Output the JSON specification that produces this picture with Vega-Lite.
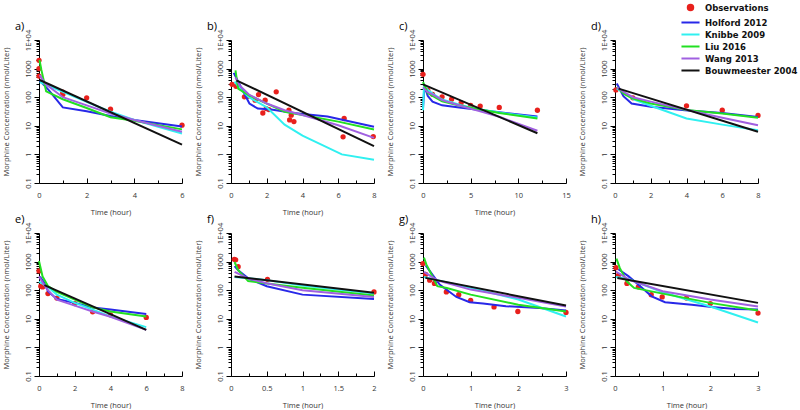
{
"$schema":"https://vega.github.io/schema/vega-lite/v6.json",
"padding":{"left":1,"top":1,"right":0,"bottom":0},
"columns":4,
"spacing":{"row":50,"column":49},
"bounds":"flush",
"datasets":{"d":[
{"p":"a","s":"O","t":0,"c":1950},{"p":"a","s":"O","t":0,"c":1000},{"p":"a","s":"O","t":0,"c":550},{"p":"a","s":"O","t":1,"c":150},{"p":"a","s":"O","t":1,"c":125},{"p":"a","s":"O","t":2,"c":95},{"p":"a","s":"O","t":3,"c":38},{"p":"a","s":"O","t":6,"c":10.5},
{"p":"a","s":"H","t":0.03,"c":380},{"p":"a","s":"H","t":0.4,"c":180},{"p":"a","s":"H","t":1,"c":44},{"p":"a","s":"H","t":2,"c":32},{"p":"a","s":"H","t":3,"c":22},{"p":"a","s":"H","t":4,"c":16},{"p":"a","s":"H","t":6,"c":9.5},
{"p":"a","s":"K","t":0.03,"c":340},{"p":"a","s":"K","t":1,"c":155},{"p":"a","s":"K","t":2,"c":69},{"p":"a","s":"K","t":3,"c":31},{"p":"a","s":"K","t":4,"c":16},{"p":"a","s":"K","t":6,"c":5.4},
{"p":"a","s":"L","t":0.02,"c":2000},{"p":"a","s":"L","t":0.1,"c":900},{"p":"a","s":"L","t":0.3,"c":160},{"p":"a","s":"L","t":1,"c":85},{"p":"a","s":"L","t":2,"c":42},{"p":"a","s":"L","t":3,"c":20},{"p":"a","s":"L","t":4,"c":15},{"p":"a","s":"L","t":6,"c":7.5},
{"p":"a","s":"W","t":0.03,"c":600},{"p":"a","s":"W","t":0.25,"c":300},{"p":"a","s":"W","t":1,"c":100},{"p":"a","s":"W","t":2,"c":52},{"p":"a","s":"W","t":3,"c":27},{"p":"a","s":"W","t":4,"c":16},{"p":"a","s":"W","t":6,"c":6.2},
{"p":"a","s":"B","t":0.03,"c":400},{"p":"a","s":"B","t":6,"c":2.2},
{"p":"b","s":"O","t":0.06,"c":283},{"p":"b","s":"O","t":0.28,"c":241},{"p":"b","s":"O","t":0.75,"c":103},{"p":"b","s":"O","t":0.94,"c":108},{"p":"b","s":"O","t":1.35,"c":79},{"p":"b","s":"O","t":1.54,"c":124},{"p":"b","s":"O","t":1.78,"c":28},{"p":"b","s":"O","t":1.91,"c":79},{"p":"b","s":"O","t":1.97,"c":40},{"p":"b","s":"O","t":2.12,"c":37},{"p":"b","s":"O","t":2.53,"c":154},{"p":"b","s":"O","t":3.24,"c":35},{"p":"b","s":"O","t":3.28,"c":16},{"p":"b","s":"O","t":3.37,"c":23.6},{"p":"b","s":"O","t":3.52,"c":14},{"p":"b","s":"O","t":6.27,"c":4.1},{"p":"b","s":"O","t":6.33,"c":18},{"p":"b","s":"O","t":7.96,"c":4.2},
{"p":"b","s":"H","t":0.15,"c":710},{"p":"b","s":"H","t":0.65,"c":175},{"p":"b","s":"H","t":1.03,"c":60},{"p":"b","s":"H","t":1.5,"c":40},{"p":"b","s":"H","t":2.25,"c":37},{"p":"b","s":"H","t":3.5,"c":28},{"p":"b","s":"H","t":5.4,"c":21},{"p":"b","s":"H","t":8,"c":9.3},
{"p":"b","s":"K","t":0.2,"c":350},{"p":"b","s":"K","t":0.5,"c":200},{"p":"b","s":"K","t":1,"c":100},{"p":"b","s":"K","t":2,"c":44},{"p":"b","s":"K","t":3,"c":11},{"p":"b","s":"K","t":4,"c":4.5},{"p":"b","s":"K","t":6.2,"c":1},{"p":"b","s":"K","t":8,"c":0.65},
{"p":"b","s":"L","t":0.25,"c":870},{"p":"b","s":"L","t":0.4,"c":200},{"p":"b","s":"L","t":1,"c":117},{"p":"b","s":"L","t":2,"c":60},{"p":"b","s":"L","t":3,"c":31},{"p":"b","s":"L","t":4,"c":24},{"p":"b","s":"L","t":6,"c":14},{"p":"b","s":"L","t":8,"c":7.4},
{"p":"b","s":"W","t":0.25,"c":490},{"p":"b","s":"W","t":0.5,"c":250},{"p":"b","s":"W","t":1,"c":124},{"p":"b","s":"W","t":2,"c":60},{"p":"b","s":"W","t":3,"c":35},{"p":"b","s":"W","t":4,"c":24},{"p":"b","s":"W","t":6,"c":10.5},{"p":"b","s":"W","t":8,"c":3.8},
{"p":"b","s":"B","t":0.3,"c":390},{"p":"b","s":"B","t":8,"c":1.95},
{"p":"c","s":"O","t":0,"c":630},{"p":"c","s":"O","t":0.5,"c":175},{"p":"c","s":"O","t":1,"c":126},{"p":"c","s":"O","t":2,"c":103},{"p":"c","s":"O","t":3,"c":85},{"p":"c","s":"O","t":4,"c":63},{"p":"c","s":"O","t":5,"c":52},{"p":"c","s":"O","t":6,"c":49},{"p":"c","s":"O","t":8,"c":44},{"p":"c","s":"O","t":12,"c":35},
{"p":"c","s":"H","t":0,"c":40},{"p":"c","s":"H","t":0.15,"c":250},{"p":"c","s":"H","t":0.5,"c":110},{"p":"c","s":"H","t":1,"c":70},{"p":"c","s":"H","t":2,"c":52},{"p":"c","s":"H","t":4,"c":43},{"p":"c","s":"H","t":6,"c":36},{"p":"c","s":"H","t":8,"c":30},{"p":"c","s":"H","t":12,"c":21},
{"p":"c","s":"K","t":0,"c":35},{"p":"c","s":"K","t":0.1,"c":230},{"p":"c","s":"K","t":1,"c":134},{"p":"c","s":"K","t":2,"c":83},{"p":"c","s":"K","t":4,"c":52},{"p":"c","s":"K","t":6,"c":37},{"p":"c","s":"K","t":8,"c":29},{"p":"c","s":"K","t":12,"c":19.5},
{"p":"c","s":"L","t":0,"c":340},{"p":"c","s":"L","t":0.5,"c":140},{"p":"c","s":"L","t":1,"c":111},{"p":"c","s":"L","t":2,"c":72},{"p":"c","s":"L","t":4,"c":49},{"p":"c","s":"L","t":6,"c":37},{"p":"c","s":"L","t":8,"c":28},{"p":"c","s":"L","t":12,"c":18},
{"p":"c","s":"W","t":0,"c":220},{"p":"c","s":"W","t":0.5,"c":150},{"p":"c","s":"W","t":1,"c":125},{"p":"c","s":"W","t":2,"c":79},{"p":"c","s":"W","t":4,"c":49},{"p":"c","s":"W","t":6,"c":32},{"p":"c","s":"W","t":8,"c":20.6},{"p":"c","s":"W","t":12,"c":6.7},
{"p":"c","s":"B","t":0,"c":280},{"p":"c","s":"B","t":12,"c":5.5},
{"p":"d","s":"O","t":0.05,"c":180},{"p":"d","s":"O","t":1,"c":95},{"p":"d","s":"O","t":4,"c":50},{"p":"d","s":"O","t":6,"c":35},{"p":"d","s":"O","t":8,"c":23},
{"p":"d","s":"H","t":0.1,"c":300},{"p":"d","s":"H","t":0.47,"c":108},{"p":"d","s":"H","t":0.93,"c":60},{"p":"d","s":"H","t":2,"c":46},{"p":"d","s":"H","t":3.9,"c":35},{"p":"d","s":"H","t":6,"c":28},{"p":"d","s":"H","t":8,"c":20.5},
{"p":"d","s":"K","t":0.1,"c":200},{"p":"d","s":"K","t":0.5,"c":140},{"p":"d","s":"K","t":1,"c":85},{"p":"d","s":"K","t":2,"c":50},{"p":"d","s":"K","t":4,"c":18},{"p":"d","s":"K","t":6,"c":11},{"p":"d","s":"K","t":8,"c":7},
{"p":"d","s":"L","t":0.1,"c":230},{"p":"d","s":"L","t":0.5,"c":130},{"p":"d","s":"L","t":1,"c":90},{"p":"d","s":"L","t":2,"c":60},{"p":"d","s":"L","t":4,"c":36},{"p":"d","s":"L","t":6,"c":27},{"p":"d","s":"L","t":8,"c":19},
{"p":"d","s":"W","t":0.1,"c":220},{"p":"d","s":"W","t":0.5,"c":150},{"p":"d","s":"W","t":1,"c":100},{"p":"d","s":"W","t":2,"c":70},{"p":"d","s":"W","t":4,"c":36},{"p":"d","s":"W","t":6,"c":19},{"p":"d","s":"W","t":8,"c":10.5},
{"p":"d","s":"B","t":0.2,"c":200},{"p":"d","s":"B","t":8,"c":6.2},
{"p":"e","s":"O","t":0,"c":470},{"p":"e","s":"O","t":0.1,"c":138},{"p":"e","s":"O","t":0.2,"c":130},{"p":"e","s":"O","t":0.5,"c":76},{"p":"e","s":"O","t":1,"c":53},{"p":"e","s":"O","t":2,"c":34},{"p":"e","s":"O","t":3,"c":17.6},{"p":"e","s":"O","t":4,"c":13.8},{"p":"e","s":"O","t":6,"c":11.2},
{"p":"e","s":"H","t":0.05,"c":300},{"p":"e","s":"H","t":0.3,"c":180},{"p":"e","s":"H","t":0.5,"c":92},{"p":"e","s":"H","t":1,"c":49},{"p":"e","s":"H","t":2,"c":36},{"p":"e","s":"H","t":3,"c":25},{"p":"e","s":"H","t":4,"c":21},{"p":"e","s":"H","t":6,"c":14.6},
{"p":"e","s":"K","t":0,"c":200},{"p":"e","s":"K","t":0.5,"c":130},{"p":"e","s":"K","t":1,"c":70},{"p":"e","s":"K","t":2,"c":36},{"p":"e","s":"K","t":3,"c":21},{"p":"e","s":"K","t":4,"c":12},{"p":"e","s":"K","t":6,"c":5.1},
{"p":"e","s":"L","t":0,"c":1050},{"p":"e","s":"L","t":0.2,"c":300},{"p":"e","s":"L","t":0.5,"c":140},{"p":"e","s":"L","t":1,"c":87},{"p":"e","s":"L","t":2,"c":47},{"p":"e","s":"L","t":3,"c":25},{"p":"e","s":"L","t":4,"c":18},{"p":"e","s":"L","t":6,"c":12},
{"p":"e","s":"W","t":0,"c":300},{"p":"e","s":"W","t":0.3,"c":150},{"p":"e","s":"W","t":0.5,"c":100},{"p":"e","s":"W","t":1,"c":47},{"p":"e","s":"W","t":2,"c":29},{"p":"e","s":"W","t":3,"c":18},{"p":"e","s":"W","t":4,"c":11.8},{"p":"e","s":"W","t":6,"c":4.1},
{"p":"e","s":"B","t":0.3,"c":150},{"p":"e","s":"B","t":6,"c":4.1},
{"p":"f","s":"O","t":0.046,"c":1200},{"p":"f","s":"O","t":0.065,"c":1150},{"p":"f","s":"O","t":0.1,"c":660},{"p":"f","s":"O","t":0.51,"c":240},{"p":"f","s":"O","t":2,"c":87},
{"p":"f","s":"H","t":0.05,"c":700},{"p":"f","s":"H","t":0.1,"c":500},{"p":"f","s":"H","t":0.25,"c":250},{"p":"f","s":"H","t":0.5,"c":138},{"p":"f","s":"H","t":1,"c":70},{"p":"f","s":"H","t":2,"c":49},
{"p":"f","s":"K","t":0.05,"c":290},{"p":"f","s":"K","t":0.5,"c":225},{"p":"f","s":"K","t":1,"c":146},{"p":"f","s":"K","t":2,"c":76},
{"p":"f","s":"L","t":0.05,"c":970},{"p":"f","s":"L","t":0.1,"c":500},{"p":"f","s":"L","t":0.24,"c":208},{"p":"f","s":"L","t":0.5,"c":173},{"p":"f","s":"L","t":1,"c":121},{"p":"f","s":"L","t":2,"c":65},
{"p":"f","s":"W","t":0.05,"c":440},{"p":"f","s":"W","t":0.25,"c":250},{"p":"f","s":"W","t":0.5,"c":175},{"p":"f","s":"W","t":1,"c":100},{"p":"f","s":"W","t":2,"c":58},
{"p":"f","s":"B","t":0.05,"c":300},{"p":"f","s":"B","t":2,"c":81},
{"p":"g","s":"O","t":0,"c":850},{"p":"g","s":"O","t":0.056,"c":355},{"p":"g","s":"O","t":0.14,"c":225},{"p":"g","s":"O","t":0.24,"c":173},{"p":"g","s":"O","t":0.49,"c":87},{"p":"g","s":"O","t":0.75,"c":70},{"p":"g","s":"O","t":1,"c":44},{"p":"g","s":"O","t":1.49,"c":26},{"p":"g","s":"O","t":1.99,"c":18},{"p":"g","s":"O","t":3,"c":16.7},
{"p":"g","s":"H","t":0.056,"c":740},{"p":"g","s":"H","t":0.35,"c":158},{"p":"g","s":"H","t":0.7,"c":58},{"p":"g","s":"H","t":0.98,"c":38},{"p":"g","s":"H","t":1.26,"c":34},{"p":"g","s":"H","t":1.74,"c":27.5},{"p":"g","s":"H","t":2.44,"c":24},{"p":"g","s":"H","t":3,"c":19.6},
{"p":"g","s":"K","t":0.02,"c":290},{"p":"g","s":"K","t":0.3,"c":225},{"p":"g","s":"K","t":1,"c":121},{"p":"g","s":"K","t":2,"c":47},{"p":"g","s":"K","t":3,"c":12},
{"p":"g","s":"L","t":0.02,"c":1380},{"p":"g","s":"L","t":0.07,"c":800},{"p":"g","s":"L","t":0.2,"c":300},{"p":"g","s":"L","t":0.3,"c":138},{"p":"g","s":"L","t":0.5,"c":120},{"p":"g","s":"L","t":1,"c":70},{"p":"g","s":"L","t":2,"c":31},{"p":"g","s":"L","t":3,"c":18},
{"p":"g","s":"W","t":0.02,"c":440},{"p":"g","s":"W","t":0.3,"c":220},{"p":"g","s":"W","t":1,"c":105},{"p":"g","s":"W","t":2,"c":54},{"p":"g","s":"W","t":3,"c":27},
{"p":"g","s":"B","t":0.05,"c":270},{"p":"g","s":"B","t":3,"c":29},
{"p":"h","s":"O","t":0.02,"c":615},{"p":"h","s":"O","t":0.07,"c":330},{"p":"h","s":"O","t":0.25,"c":173},{"p":"h","s":"O","t":0.49,"c":131},{"p":"h","s":"O","t":0.76,"c":70},{"p":"h","s":"O","t":0.99,"c":58},{"p":"h","s":"O","t":1.5,"c":53},{"p":"h","s":"O","t":2,"c":34},{"p":"h","s":"O","t":3,"c":15.8},
{"p":"h","s":"H","t":0.07,"c":540},{"p":"h","s":"H","t":0.28,"c":310},{"p":"h","s":"H","t":0.53,"c":138},{"p":"h","s":"H","t":0.77,"c":61},{"p":"h","s":"H","t":1.05,"c":38},{"p":"h","s":"H","t":1.61,"c":31},{"p":"h","s":"H","t":2.03,"c":26},{"p":"h","s":"H","t":2.52,"c":22},{"p":"h","s":"H","t":3,"c":21},
{"p":"h","s":"K","t":0.02,"c":290},{"p":"h","s":"K","t":0.3,"c":240},{"p":"h","s":"K","t":1,"c":85},{"p":"h","s":"K","t":2,"c":27},{"p":"h","s":"K","t":3,"c":7.4},
{"p":"h","s":"L","t":0.03,"c":1270},{"p":"h","s":"L","t":0.1,"c":600},{"p":"h","s":"L","t":0.25,"c":200},{"p":"h","s":"L","t":0.4,"c":120},{"p":"h","s":"L","t":1,"c":76},{"p":"h","s":"L","t":2,"c":36},{"p":"h","s":"L","t":3,"c":19.6},
{"p":"h","s":"W","t":0.02,"c":450},{"p":"h","s":"W","t":0.3,"c":230},{"p":"h","s":"W","t":1,"c":92},{"p":"h","s":"W","t":2,"c":47},{"p":"h","s":"W","t":3,"c":27},
{"p":"h","s":"B","t":0.05,"c":265},{"p":"h","s":"B","t":3,"c":36}
]},
"concat":[
{"width":143,"height":143,"title":"a)","data":{"name":"d"},"transform":[{"filter":"datum.p=='a'"}],
 "encoding":{
  "x":{"field":"t","type":"quantitative","scale":{"domain":[0,6],"nice":false,"zero":false},"axis":{"title":"Time (hour)","values":[0,1,2,3,4,5,6],"labelExpr":"datum.value%2==0?format(datum.value,'~g'):''","tickSize":{"condition":{"test":"datum.value%2==0","value":-5},"value":-3}}},
  "y":{"field":"c","type":"quantitative","scale":{"type":"log","domain":[0.1,10000],"nice":false},"axis":{"title":"Morphine Concentration (nmol/Liter)","values":[0.1,0.2,0.3,0.4,0.5,0.6,0.7,0.8,0.9,1,2,3,4,5,6,7,8,9,10,20,30,40,50,60,70,80,90,100,200,300,400,500,600,700,800,900,1000,2000,3000,4000,5000,6000,7000,8000,9000,10000],"labelExpr":"datum.value==10000?'1E+04':datum.value==1000?'1000':datum.value==100?'100':datum.value==10?'10':datum.value==1?'1':datum.value==0.1?'0.1':''","tickSize":{"condition":{"test":"indexof([0.1,1,10,100,1000,10000],datum.value)>=0","value":5},"value":3}}},
  "color":{"field":"s","type":"nominal","scale":{"domain":["O","H","K","L","W","B"],"range":["#e8201c","#2828e8","#30f0f0","#22e022","#a060e0","#111111"]},
   "legend":{"title":null,"orient":"none","legendX":645,"legendY":-39,"labelFont":"DejaVu Sans","labelFontWeight":"bold","labelFontSize":8.5,"labelColor":"#111","symbolSize":64,"rowPadding":1,"labelOffset":8,
    "labelExpr":"datum.value=='O'?'Observations':datum.value=='H'?'Holford 2012':datum.value=='K'?'Knibbe 2009':datum.value=='L'?'Liu 2016':datum.value=='W'?'Wang 2013':'Bouwmeester 2004'",
    "encode":{"symbols":{"update":{
      "shape":{"signal":"datum.value=='O'?'circle':'M-1.65,0H1.65'"},
      "size":{"signal":"datum.value=='O'?30:120"},
      "fill":{"signal":"datum.value=='O'?'#e8201c':'transparent'"},
      "stroke":{"signal":"datum.value=='O'?'transparent':scale('color',datum.value)"},
      "strokeWidth":{"value":2},
      "opacity":{"value":1}}}}}}
 },
 "layer":[
  {"transform":[{"filter":"datum.s=='O'"}],"mark":{"type":"circle","size":28,"opacity":1}},
  {"transform":[{"filter":"datum.s!='O'"}],"mark":{"type":"line","strokeWidth":2}}
 ]},
{"width":143,"height":143,"title":"b)","data":{"name":"d"},"transform":[{"filter":"datum.p=='b'"}],
 "encoding":{
  "x":{"field":"t","type":"quantitative","scale":{"domain":[0,8],"nice":false,"zero":false},"axis":{"title":"Time (hour)","values":[0,1,2,3,4,5,6,7,8],"labelExpr":"datum.value%2==0?format(datum.value,'~g'):''","tickSize":{"condition":{"test":"datum.value%2==0","value":-5},"value":-3}}},
  "y":{"field":"c","type":"quantitative","scale":{"type":"log","domain":[0.1,10000],"nice":false},"axis":{"title":"Morphine Concentration (nmol/Liter)","values":[0.1,0.2,0.3,0.4,0.5,0.6,0.7,0.8,0.9,1,2,3,4,5,6,7,8,9,10,20,30,40,50,60,70,80,90,100,200,300,400,500,600,700,800,900,1000,2000,3000,4000,5000,6000,7000,8000,9000,10000],"labelExpr":"datum.value==10000?'1E+04':datum.value==1000?'1000':datum.value==100?'100':datum.value==10?'10':datum.value==1?'1':datum.value==0.1?'0.1':''","tickSize":{"condition":{"test":"indexof([0.1,1,10,100,1000,10000],datum.value)>=0","value":5},"value":3}}},
  "color":{"field":"s","type":"nominal","scale":{"domain":["O","H","K","L","W","B"],"range":["#e8201c","#2828e8","#30f0f0","#22e022","#a060e0","#111111"]}}
 },
 "layer":[
  {"transform":[{"filter":"datum.s=='O'"}],"mark":{"type":"circle","size":28,"opacity":1}},
  {"transform":[{"filter":"datum.s!='O'"}],"mark":{"type":"line","strokeWidth":2}}
 ]},
{"width":143,"height":143,"title":"c)","data":{"name":"d"},"transform":[{"filter":"datum.p=='c'"}],
 "encoding":{
  "x":{"field":"t","type":"quantitative","scale":{"domain":[0,15],"nice":false,"zero":false},"axis":{"title":"Time (hour)","values":[0,2.5,5,7.5,10,12.5,15],"labelExpr":"datum.value%5==0?format(datum.value,'~g'):''","tickSize":{"condition":{"test":"datum.value%5==0","value":-5},"value":-3}}},
  "y":{"field":"c","type":"quantitative","scale":{"type":"log","domain":[0.1,10000],"nice":false},"axis":{"title":"Morphine Concentration (nmol/Liter)","values":[0.1,0.2,0.3,0.4,0.5,0.6,0.7,0.8,0.9,1,2,3,4,5,6,7,8,9,10,20,30,40,50,60,70,80,90,100,200,300,400,500,600,700,800,900,1000,2000,3000,4000,5000,6000,7000,8000,9000,10000],"labelExpr":"datum.value==10000?'1E+04':datum.value==1000?'1000':datum.value==100?'100':datum.value==10?'10':datum.value==1?'1':datum.value==0.1?'0.1':''","tickSize":{"condition":{"test":"indexof([0.1,1,10,100,1000,10000],datum.value)>=0","value":5},"value":3}}},
  "color":{"field":"s","type":"nominal","scale":{"domain":["O","H","K","L","W","B"],"range":["#e8201c","#2828e8","#30f0f0","#22e022","#a060e0","#111111"]}}
 },
 "layer":[
  {"transform":[{"filter":"datum.s=='O'"}],"mark":{"type":"circle","size":28,"opacity":1}},
  {"transform":[{"filter":"datum.s!='O'"}],"mark":{"type":"line","strokeWidth":2}}
 ]},
{"width":143,"height":143,"title":"d)","data":{"name":"d"},"transform":[{"filter":"datum.p=='d'"}],
 "encoding":{
  "x":{"field":"t","type":"quantitative","scale":{"domain":[0,8],"nice":false,"zero":false},"axis":{"title":null,"values":[0,1,2,3,4,5,6,7,8],"labelExpr":"datum.value%2==0?format(datum.value,'~g'):''","tickSize":{"condition":{"test":"datum.value%2==0","value":-5},"value":-3}}},
  "y":{"field":"c","type":"quantitative","scale":{"type":"log","domain":[0.1,10000],"nice":false},"axis":{"title":"Morphine Concentration (nmol/Liter)","values":[0.1,0.2,0.3,0.4,0.5,0.6,0.7,0.8,0.9,1,2,3,4,5,6,7,8,9,10,20,30,40,50,60,70,80,90,100,200,300,400,500,600,700,800,900,1000,2000,3000,4000,5000,6000,7000,8000,9000,10000],"labelExpr":"datum.value==10000?'1E+04':datum.value==1000?'1000':datum.value==100?'100':datum.value==10?'10':datum.value==1?'1':datum.value==0.1?'0.1':''","tickSize":{"condition":{"test":"indexof([0.1,1,10,100,1000,10000],datum.value)>=0","value":5},"value":3}}},
  "color":{"field":"s","type":"nominal","scale":{"domain":["O","H","K","L","W","B"],"range":["#e8201c","#2828e8","#30f0f0","#22e022","#a060e0","#111111"]}}
 },
 "layer":[
  {"transform":[{"filter":"datum.s=='O'"}],"mark":{"type":"circle","size":28,"opacity":1}},
  {"transform":[{"filter":"datum.s!='O'"}],"mark":{"type":"line","strokeWidth":2}}
 ]},
{"width":143,"height":143,"title":"e)","data":{"name":"d"},"transform":[{"filter":"datum.p=='e'"}],
 "encoding":{
  "x":{"field":"t","type":"quantitative","scale":{"domain":[0,8],"nice":false,"zero":false},"axis":{"title":"Time (hour)","values":[0,1,2,3,4,5,6,7,8],"labelExpr":"datum.value%2==0?format(datum.value,'~g'):''","tickSize":{"condition":{"test":"datum.value%2==0","value":-5},"value":-3}}},
  "y":{"field":"c","type":"quantitative","scale":{"type":"log","domain":[0.1,10000],"nice":false},"axis":{"title":"Morphine Concentration (nmol/Liter)","values":[0.1,0.2,0.3,0.4,0.5,0.6,0.7,0.8,0.9,1,2,3,4,5,6,7,8,9,10,20,30,40,50,60,70,80,90,100,200,300,400,500,600,700,800,900,1000,2000,3000,4000,5000,6000,7000,8000,9000,10000],"labelExpr":"datum.value==10000?'1E+04':datum.value==1000?'1000':datum.value==100?'100':datum.value==10?'10':datum.value==1?'1':datum.value==0.1?'0.1':''","tickSize":{"condition":{"test":"indexof([0.1,1,10,100,1000,10000],datum.value)>=0","value":5},"value":3}}},
  "color":{"field":"s","type":"nominal","scale":{"domain":["O","H","K","L","W","B"],"range":["#e8201c","#2828e8","#30f0f0","#22e022","#a060e0","#111111"]}}
 },
 "layer":[
  {"transform":[{"filter":"datum.s=='O'"}],"mark":{"type":"circle","size":28,"opacity":1}},
  {"transform":[{"filter":"datum.s!='O'"}],"mark":{"type":"line","strokeWidth":2}}
 ]},
{"width":143,"height":143,"title":"f)","data":{"name":"d"},"transform":[{"filter":"datum.p=='f'"}],
 "encoding":{
  "x":{"field":"t","type":"quantitative","scale":{"domain":[0,2],"nice":false,"zero":false},"axis":{"title":"Time (hour)","values":[0,0.25,0.5,0.75,1,1.25,1.5,1.75,2],"labelExpr":"(datum.value*2)%1==0?format(datum.value,'~g'):''","tickSize":{"condition":{"test":"(datum.value*2)%1==0","value":-5},"value":-3}}},
  "y":{"field":"c","type":"quantitative","scale":{"type":"log","domain":[0.1,10000],"nice":false},"axis":{"title":"Morphine Concentration (nmol/Liter)","values":[0.1,0.2,0.3,0.4,0.5,0.6,0.7,0.8,0.9,1,2,3,4,5,6,7,8,9,10,20,30,40,50,60,70,80,90,100,200,300,400,500,600,700,800,900,1000,2000,3000,4000,5000,6000,7000,8000,9000,10000],"labelExpr":"datum.value==10000?'1E+04':datum.value==1000?'1000':datum.value==100?'100':datum.value==10?'10':datum.value==1?'1':datum.value==0.1?'0.1':''","tickSize":{"condition":{"test":"indexof([0.1,1,10,100,1000,10000],datum.value)>=0","value":5},"value":3}}},
  "color":{"field":"s","type":"nominal","scale":{"domain":["O","H","K","L","W","B"],"range":["#e8201c","#2828e8","#30f0f0","#22e022","#a060e0","#111111"]}}
 },
 "layer":[
  {"transform":[{"filter":"datum.s=='O'"}],"mark":{"type":"circle","size":28,"opacity":1}},
  {"transform":[{"filter":"datum.s!='O'"}],"mark":{"type":"line","strokeWidth":2}}
 ]},
{"width":143,"height":143,"title":"g)","data":{"name":"d"},"transform":[{"filter":"datum.p=='g'"}],
 "encoding":{
  "x":{"field":"t","type":"quantitative","scale":{"domain":[0,3],"nice":false,"zero":false},"axis":{"title":"Time (hour)","values":[0,0.5,1,1.5,2,2.5,3],"labelExpr":"datum.value%1==0?format(datum.value,'~g'):''","tickSize":{"condition":{"test":"datum.value%1==0","value":-5},"value":-3}}},
  "y":{"field":"c","type":"quantitative","scale":{"type":"log","domain":[0.1,10000],"nice":false},"axis":{"title":"Morphine Concentration (nmol/Liter)","values":[0.1,0.2,0.3,0.4,0.5,0.6,0.7,0.8,0.9,1,2,3,4,5,6,7,8,9,10,20,30,40,50,60,70,80,90,100,200,300,400,500,600,700,800,900,1000,2000,3000,4000,5000,6000,7000,8000,9000,10000],"labelExpr":"datum.value==10000?'1E+04':datum.value==1000?'1000':datum.value==100?'100':datum.value==10?'10':datum.value==1?'1':datum.value==0.1?'0.1':''","tickSize":{"condition":{"test":"indexof([0.1,1,10,100,1000,10000],datum.value)>=0","value":5},"value":3}}},
  "color":{"field":"s","type":"nominal","scale":{"domain":["O","H","K","L","W","B"],"range":["#e8201c","#2828e8","#30f0f0","#22e022","#a060e0","#111111"]}}
 },
 "layer":[
  {"transform":[{"filter":"datum.s=='O'"}],"mark":{"type":"circle","size":28,"opacity":1}},
  {"transform":[{"filter":"datum.s!='O'"}],"mark":{"type":"line","strokeWidth":2}}
 ]},
{"width":143,"height":143,"title":"h)","data":{"name":"d"},"transform":[{"filter":"datum.p=='h'"}],
 "encoding":{
  "x":{"field":"t","type":"quantitative","scale":{"domain":[0,3],"nice":false,"zero":false},"axis":{"title":"Time (hour)","values":[0,0.5,1,1.5,2,2.5,3],"labelExpr":"datum.value%1==0?format(datum.value,'~g'):''","tickSize":{"condition":{"test":"datum.value%1==0","value":-5},"value":-3}}},
  "y":{"field":"c","type":"quantitative","scale":{"type":"log","domain":[0.1,10000],"nice":false},"axis":{"title":"Morphine Concentration (nmol/Liter)","values":[0.1,0.2,0.3,0.4,0.5,0.6,0.7,0.8,0.9,1,2,3,4,5,6,7,8,9,10,20,30,40,50,60,70,80,90,100,200,300,400,500,600,700,800,900,1000,2000,3000,4000,5000,6000,7000,8000,9000,10000],"labelExpr":"datum.value==10000?'1E+04':datum.value==1000?'1000':datum.value==100?'100':datum.value==10?'10':datum.value==1?'1':datum.value==0.1?'0.1':''","tickSize":{"condition":{"test":"indexof([0.1,1,10,100,1000,10000],datum.value)>=0","value":5},"value":3}}},
  "color":{"field":"s","type":"nominal","scale":{"domain":["O","H","K","L","W","B"],"range":["#e8201c","#2828e8","#30f0f0","#22e022","#a060e0","#111111"]}}
 },
 "layer":[
  {"transform":[{"filter":"datum.s=='O'"}],"mark":{"type":"circle","size":28,"opacity":1}},
  {"transform":[{"filter":"datum.s!='O'"}],"mark":{"type":"line","strokeWidth":2}}
 ]}
],
"config":{
 "view":{"stroke":null},
 "axis":{"grid":false,"domainColor":"#000","tickColor":"#000","labelFont":"Open Sans","labelFontSize":7.5,"labelColor":"#333","titleFont":"Open Sans","titleFontSize":7.5,"titleFontWeight":"normal","titleColor":"#333","labelOverlap":false,"labelFlush":false,"labelBound":false},
 "axisX":{"labelPadding":13,"titlePadding":8},
 "axisY":{"labelAngle":-90,"labelAlign":"center","labelBaseline":"bottom","labelPadding":2,"titlePadding":14},
 "title":{"anchor":"start","frame":"group","dx":-24,"offset":-3,"fontSize":11,"fontWeight":"normal","font":"Open Sans","color":"#000"}
}
}
